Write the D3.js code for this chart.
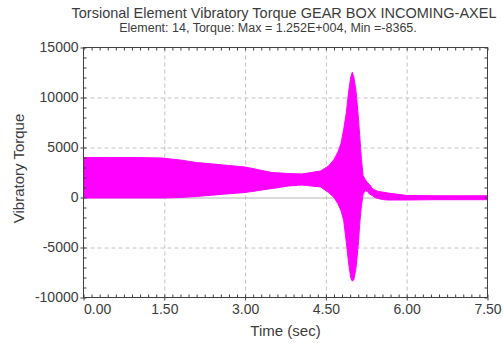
<!DOCTYPE html>
<html>
<head>
<meta charset="utf-8">
<script src="https://cdn.jsdelivr.net/npm/d3@7"></script>
<style>
  html, body { margin: 0; padding: 0; background: #fff; }
  svg { display: block; font-family: "Liberation Sans", Arial, sans-serif; }
</style>
</head>
<body>
<svg id="chart" width="503" height="343"></svg>
<script>
// ---- data ----
const titleLine1 = "Torsional Element Vibratory Torque GEAR BOX INCOMING-AXEL";
const titleLine2 = "Element: 14, Torque: Max = 1.252E+004, Min =-8365.";
const xLabel = "Time (sec)";
const yLabel = "Vibratory Torque";

// time (s) of envelope samples
const times = [0.00, 0.50, 1.00, 1.45, 1.80, 2.10, 2.60, 3.00, 3.50, 3.80, 4.05, 4.40, 4.55, 4.65, 4.72,
               4.78, 4.83, 4.88, 4.92, 4.96, 4.99, 5.02, 5.06, 5.10, 5.13, 5.16, 5.19, 5.23, 5.27, 5.31,
               5.36, 5.41, 5.47, 5.55, 5.65, 5.80, 6.00, 6.50, 7.00, 7.50];
// upper envelope of the vibratory torque
const upperEnv = [4000, 4000, 4000, 3950, 3750, 3500, 3250, 3050, 2500, 2400, 2350, 2650, 3150, 3800, 4500,
                  5400, 6800, 8500, 10500, 12000, 12520, 12000, 10600, 8200, 6000, 3800, 2200, 1800, 1500, 1300,
                  900, 750, 600, 550, 450, 350, 200, 180, 170, 180];
// lower envelope of the vibratory torque
const lowerEnv = [-50, -50, -50, -50, 0, 100, 330, 500, 900, 1150, 1250, 1060, 500, 0, -600,
                  -1300, -2300, -4500, -6500, -8000, -8365, -8200, -7000, -4800, -2500, -800, 300, 700, 600, 350,
                  200, 0, -100, -200, -250, -250, -250, -220, -220, -220];

const xTicks = [0.00, 1.50, 3.00, 4.50, 6.00, 7.50];
const xTickLabels = ["0.00", "1.50", "3.00", "4.50", "6.00", "7.50"];
const yTicks = [-10000, -5000, 0, 5000, 10000, 15000];
const yTickLabels = ["-10000", "-5000", "0", "5000", "10000", "15000"];
const xMinorStep = 0.15;
const yMinorStep = 1000;

// ---- layout ----
const pLeft = 83.5, pRight = 487.5, pTop = 47.5, pBottom = 297.5;
const textColor = "#3c3c3c";
const svg = d3.select("#chart");

const x = d3.scaleLinear().domain([0, 7.5]).range([pLeft, pRight]);
const y = d3.scaleLinear().domain([-10000, 15000]).range([pBottom, pTop]);

const xMinor = d3.range(0, 7.5 + 1e-9, xMinorStep);
const yMinor = d3.range(-10000, 15000 + 1e-9, yMinorStep);

// grid lines (dashed), zero line solid
const gridX = svg.append("g").attr("transform", `translate(0,${pBottom})`)
  .call(d3.axisBottom(x).tickValues(xTicks.filter(t => t > 0 && t < 7.5)).tickSize(-(pBottom - pTop)).tickFormat(""));
gridX.select(".domain").remove();
gridX.selectAll("line").attr("stroke", "#c4c4c4").attr("stroke-dasharray", "4,3");

const gridY = svg.append("g").attr("transform", `translate(${pLeft},0)`)
  .call(d3.axisLeft(y).tickValues(yTicks.filter(t => t > -10000 && t < 15000)).tickSize(-(pRight - pLeft)).tickFormat(""));
gridY.select(".domain").remove();
gridY.selectAll("line")
  .attr("stroke", d => d === 0 ? "#b4b4b4" : "#c4c4c4")
  .attr("stroke-dasharray", d => d === 0 ? null : "4,3");

// the vibratory torque band
const area = d3.area()
  .x((d, i) => x(times[i]))
  .y0((d, i) => y(lowerEnv[i]))
  .y1((d, i) => y(upperEnv[i]));
svg.append("path")
  .datum(times)
  .attr("d", area)
  .attr("fill", "#ff00ff")
  .attr("stroke", "#ff00ff")
  .attr("stroke-width", 1)
  .attr("stroke-linejoin", "round");

// minor ticks, inside, all four sides
function styleTicks(g) {
  g.select(".domain").remove();
  g.selectAll("line").attr("stroke", "#404040");
}
svg.append("g").attr("transform", `translate(0,${pBottom})`)
  .call(d3.axisBottom(x).tickValues(xMinor).tickSize(-3).tickFormat("")).call(styleTicks);
svg.append("g").attr("transform", `translate(0,${pTop})`)
  .call(d3.axisTop(x).tickValues(xMinor).tickSize(-3).tickFormat("")).call(styleTicks);
svg.append("g").attr("transform", `translate(${pLeft},0)`)
  .call(d3.axisLeft(y).tickValues(yMinor).tickSize(-3).tickFormat("")).call(styleTicks);
svg.append("g").attr("transform", `translate(${pRight},0)`)
  .call(d3.axisRight(y).tickValues(yMinor).tickSize(-3).tickFormat("")).call(styleTicks);

// major ticks + labels
const xAxis = svg.append("g").attr("transform", `translate(0,${pBottom})`)
  .call(d3.axisBottom(x).tickValues(xTicks).tickSize(3).tickPadding(4)
    .tickFormat((d, i) => xTickLabels[i]));
xAxis.select(".domain").remove();
xAxis.selectAll("line").attr("stroke", "#404040");
xAxis.selectAll("text")
  .attr("fill", textColor).style("font-size", "14px")
  .attr("text-anchor", (d, i) => i === 0 ? "start" : "middle");

const yAxis = svg.append("g").attr("transform", `translate(${pLeft},0)`)
  .call(d3.axisLeft(y).tickValues(yTicks).tickSize(3).tickPadding(2)
    .tickFormat((d, i) => yTickLabels[i]));
yAxis.select(".domain").remove();
yAxis.selectAll("line").attr("stroke", "#404040");
yAxis.selectAll("text").attr("fill", textColor).style("font-size", "14px");

// frame
svg.append("rect")
  .attr("x", pLeft).attr("y", pTop)
  .attr("width", pRight - pLeft).attr("height", pBottom - pTop)
  .attr("fill", "none").attr("stroke", "#404040").attr("stroke-width", 1);

// titles
svg.append("text").attr("x", 284).attr("y", 18)
  .attr("text-anchor", "middle").attr("fill", textColor)
  .style("font-size", "14.5px").text(titleLine1);
svg.append("text").attr("x", 268).attr("y", 31.5)
  .attr("text-anchor", "middle").attr("fill", textColor)
  .style("font-size", "12.5px").text(titleLine2);

// axis titles
svg.append("text").attr("x", (pLeft + pRight) / 2).attr("y", 336)
  .attr("text-anchor", "middle").attr("fill", textColor)
  .style("font-size", "15px").text(xLabel);
svg.append("text")
  .attr("transform", `translate(24,${(pTop + pBottom) / 2 - 4}) rotate(-90)`)
  .attr("text-anchor", "middle").attr("fill", textColor)
  .style("font-size", "15px").text(yLabel);
</script>
</body>
</html>
